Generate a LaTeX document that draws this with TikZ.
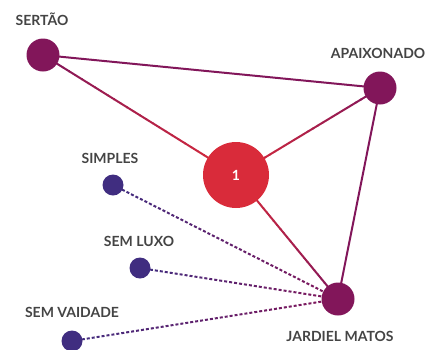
\documentclass[tikz,border=0pt]{standalone}
\usepackage{fontspec}
\setmainfont{Lato}
\usetikzlibrary{calc}
\definecolor{cpurple}{RGB}{130,22,90}
\definecolor{cred}{RGB}{217,43,58}
\definecolor{cindigo}{RGB}{64,45,128}
\definecolor{ctext}{RGB}{68,68,68}
\tikzset{
  bignode/.style={circle,fill=cpurple,minimum size=33pt,inner sep=0pt},
  smallnode/.style={circle,fill=cindigo,minimum size=21pt,inner sep=0pt},
  hubnode/.style={circle,fill=cred,minimum size=66pt,inner sep=0pt,text=white,font=\bfseries\fontsize{14}{14}\selectfont},
  lbl/.style={anchor=base,text=ctext,inner sep=0pt,font=\bfseries\fontsize{14}{14}\selectfont},
  edge/.style={line width=2pt}
}
\newcommand\gradline[4]{%
  \foreach \i in {0,...,29}{%
    \pgfmathsetmacro\ta{\i/30}%
    \pgfmathsetmacro\tb{(\i+1.1)/30}%
    \pgfmathtruncatemacro\pp{100-\i*100/29}%
    \draw[edge,#3!\pp!#4] ($(#1)!\ta!(#2)$) -- ($(#1)!\tb!(#2)$);
  }}
\newcommand\gradDash[5]{%
  \foreach \i in {0,...,#5}{%
    \pgfmathsetmacro\ta{\i/#5}%
    \pgfmathsetmacro\tb{(\i+0.6)/#5}%
    \pgfmathtruncatemacro\pp{100-\i*100/#5}%
    \draw[edge,#3!\pp!#4] ($(#1)!\ta!(#2)$) -- ($(#1)!\tb!(#2)$);
  }}
\begin{document}
\begin{tikzpicture}[x=1pt,y=-1pt]
\useasboundingbox (0,0) rectangle (436,349);
\coordinate (s) at (43,55);
\coordinate (a) at (380,88);
\coordinate (h) at (236,175);
\coordinate (si) at (113,185);
\coordinate (sl) at (140,268);
\coordinate (sv) at (72,341);
\coordinate (j) at (338,299);
% edges
\draw[edge,cpurple] (s) -- (a);
\draw[edge,cpurple] (a) -- (j);
\gradline{s}{h}{cpurple}{cred}
\gradline{h}{a}{cred}{cpurple}
\gradline{h}{j}{cred}{cpurple}
\gradDash{si}{j}{cindigo}{cpurple}{50}
\gradDash{sl}{j}{cindigo}{cpurple}{40}
\gradDash{sv}{j}{cindigo}{cpurple}{54}
% nodes
\node[bignode] (S) at (s) {};
\node[bignode] (A) at (a) {};
\node[bignode] (J) at (j) {};
\node[hubnode] (H) at (h) {1};
\node[smallnode] (SI) at (si) {};
\node[smallnode] (SL) at (sl) {};
\node[smallnode] (SV) at (sv) {};
% labels
\node[lbl] (lS) at (42,25) {SERTÃO};
\node[lbl] (lA) at (378,58) {APAIXONADO};
\node[lbl] (lSI) at (110,163) {SIMPLES};
\node[lbl] (lSL) at (139,246) {SEM LUXO};
\node[lbl] (lSV) at (72,317) {SEM VAIDADE};
\node[lbl] (lJ) at (340,341) {JARDIEL MATOS};
\end{tikzpicture}
\end{document}
